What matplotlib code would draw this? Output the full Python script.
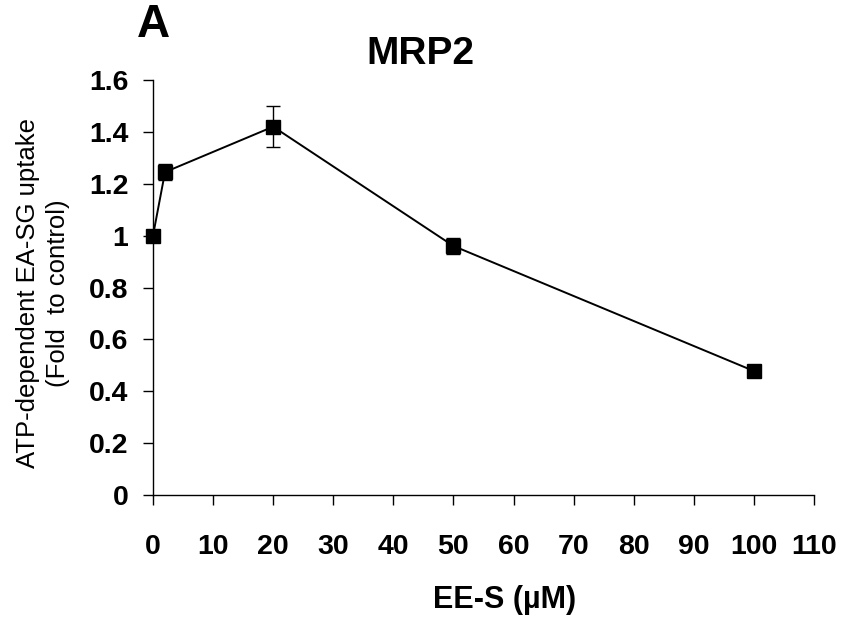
import matplotlib
matplotlib.use("Agg")
import matplotlib.pyplot as plt

conc = [0, 2, 20, 50, 100]
uptake = [1.0, 1.245, 1.42, 0.96, 0.478]
err = [0.012, 0.03, 0.08, 0.03, 0.02]
xticks = [0, 10, 20, 30, 40, 50, 60, 70, 80, 90, 100, 110]
yticks = [0, 0.2, 0.4, 0.6, 0.8, 1.0, 1.2, 1.4, 1.6]
ytick_labels = ["0", "0.2", "0.4", "0.6", "0.8", "1", "1.2", "1.4", "1.6"]

plt.rcParams['font.family'] = ['Liberation Sans', 'DejaVu Sans']

W, H = 846, 626
fig = plt.figure(figsize=(W / 100, H / 100), dpi=100)
x0, x1 = 153, 814
y0, y1 = 495, 80
ax = fig.add_axes([x0 / W, 1 - y0 / H, (x1 - x0) / W, (y0 - y1) / H])

ax.errorbar(conc, uptake, yerr=err, color='black', marker='s', markersize=10.5,
            linewidth=1.4, capsize=5, elinewidth=1.0, capthick=1.0, clip_on=False, zorder=3)

ax.set_xlim(0, 110)
ax.set_ylim(0, 1.6)
ax.set_xticks(xticks)
ax.set_xticklabels([str(t) for t in xticks], fontsize=20.5, fontweight='bold')
ax.set_yticks(yticks)
ax.set_yticklabels(ytick_labels, fontsize=20.5, fontweight='bold')
ax.tick_params(axis='both', direction='out', length=7.2, width=1.0)
ax.tick_params(axis='y', pad=10.5)
ax.tick_params(axis='x', pad=21)
for s in ['top', 'right']:
    ax.spines[s].set_visible(False)
for s in ['left', 'bottom']:
    ax.spines[s].set_linewidth(1.0)

fig.text(505 / W, 1 - 600 / H, "EE-S (µM)", fontsize=22, fontweight='bold',
         ha='center', va='center')
fig.text(43 / W, 1 - 293 / H, "ATP-dependent EA-SG uptake\n(Fold  to control)",
         fontsize=18.5, rotation=90, ha='center', va='center', multialignment='center',
         linespacing=1.3)
fig.text(420 / W, 1 - 54 / H, "MRP2", fontsize=28, fontweight='bold', ha='center', va='center')
fig.text(153 / W, 1 - 25 / H, "A", fontsize=33, fontweight='bold', ha='center', va='center')

fig.savefig("out.png", dpi=100)
